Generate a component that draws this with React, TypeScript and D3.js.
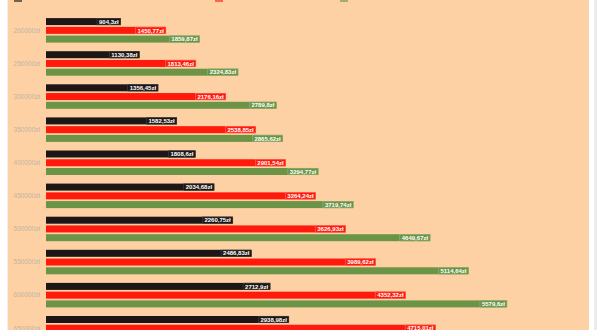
import React, { useEffect, useRef } from 'react'
import * as d3 from 'd3'

// loan amounts shown on the y axis
const amounts = ['200000zł', '250000zł', '300000zł', '350000zł', '400000zł', '450000zł', '500000zł', '550000zł', '600000zł', '650000zł']

// three series of monthly values (zł); the last group's third bar falls below the view
const seriesKeys = ['a', 'b', 'c']
const seriesA = [904.3, 1130.38, 1356.45, 1582.53, 1808.6, 2034.68, 2260.75, 2486.83, 2712.9, 2938.98]
const seriesB = [1450.77, 1813.46, 2176.16, 2538.85, 2901.54, 3264.24, 3626.93, 3989.62, 4352.32, 4715.01]
const seriesC = [1859.87, 2324.83, 2789.8, 2865.62, 3294.77, 3719.74, 4649.67, 5114.64, 5579.6]

const colors = ['#1c1716', '#ff1a0d', '#6b9447']
const boxStroke = ['#4a4240', '#ff6a5a', '#97b57a']

const fmt = (v: number) => String(Math.round(v * 100) / 100).replace('.', ',') + 'zł'

const App = () => {
  const ref = useRef<SVGSVGElement>(null)

  useEffect(() => {
    const svg = d3.select(ref.current)
    svg.selectAll('*').remove()

    const W = 600
    const H = 330

    // page frame
    svg.append('rect').attr('width', W).attr('height', H).attr('fill', '#ffffff')
    svg.append('rect').attr('x', 7).attr('y', 0).attr('width', 1).attr('height', H).attr('fill', '#eeeeee')
    svg.append('rect').attr('x', 8).attr('y', 0).attr('width', 581).attr('height', H).attr('fill', '#fdd1a3')
    svg.append('rect').attr('x', 594).attr('y', 0).attr('width', 3).attr('height', H).attr('fill', '#ececec')

    // legend swatches peeking at the top edge
    const legendX = [14, 215, 340]
    svg
      .append('g')
      .selectAll('rect')
      .data(legendX)
      .join('rect')
      .attr('x', (d) => d)
      .attr('y', -5)
      .attr('width', 8)
      .attr('height', 7)
      .attr('fill', (d, i) => colors[i])
      .attr('opacity', 0.6)

    const x = d3.scaleLinear().domain([0, 6500]).range([46, 583])

    const y = d3
      .scaleBand()
      .domain(amounts)
      .range([13.8, 13.8 + 331])
      .paddingInner(0.26)
      .paddingOuter(0.13)

    const ySub = d3.scaleBand().domain(seriesKeys).range([0, y.bandwidth()]).paddingInner(0.2)

    const values = [seriesA, seriesB, seriesC]
    const rows = amounts
      .flatMap((amt, i) => seriesKeys.map((k, s) => ({ amt, s, key: k, v: values[s][i] })))
      .filter((d) => d.v !== undefined)

    const g = svg.append('g')

    g.selectAll('rect.bar')
      .data(rows)
      .join('rect')
      .attr('class', 'bar')
      .attr('x', x(0))
      .attr('y', (d) => (y(d.amt) as number) + (ySub(d.key) as number))
      .attr('width', (d) => x(d.v) - x(0))
      .attr('height', ySub.bandwidth())
      .attr('fill', (d) => colors[d.s])

    // value labels at the bar ends
    const labels = g
      .selectAll('g.lbl')
      .data(rows)
      .join('g')
      .attr('class', 'lbl')
      .attr('transform', (d) => `translate(${x(d.v)},${(y(d.amt) as number) + (ySub(d.key) as number)})`)

    labels
      .append('text')
      .attr('x', -2)
      .attr('y', ySub.bandwidth() / 2)
      .attr('dy', '0.36em')
      .attr('text-anchor', 'end')
      .attr('font-family', 'Liberation Sans, Arial, sans-serif')
      .attr('font-weight', 'bold')
      .attr('font-size', 6)
      .attr('fill', '#ffffff')
      .text((d) => fmt(d.v))

    labels.each(function (d) {
      const node = d3.select(this)
      const t = node.select('text').node() as SVGTextElement
      const w = t.getComputedTextLength()
      node
        .insert('rect', 'text')
        .attr('x', -w - 4)
        .attr('y', 0.25)
        .attr('width', w + 4)
        .attr('height', ySub.bandwidth() - 0.5)
        .attr('fill', colors[d.s])
        .attr('stroke', boxStroke[d.s])
        .attr('stroke-width', 0.6)
    })

    // category axis labels
    svg
      .append('g')
      .selectAll('text')
      .data(amounts)
      .join('text')
      .attr('x', 40)
      .attr('y', (d) => (y(d) as number) + y.bandwidth() / 2)
      .attr('dy', '0.35em')
      .attr('text-anchor', 'end')
      .attr('font-family', 'Liberation Sans, Arial, sans-serif')
      .attr('font-size', 6.5)
      .attr('fill', '#c2b4a5')
      .text((d) => d)
  }, [])

  return (
    <svg
      ref={ref}
      width={600}
      height={330}
      style={{ position: 'absolute', left: 0, top: 0, display: 'block' }}
    />
  )
}

export default App
